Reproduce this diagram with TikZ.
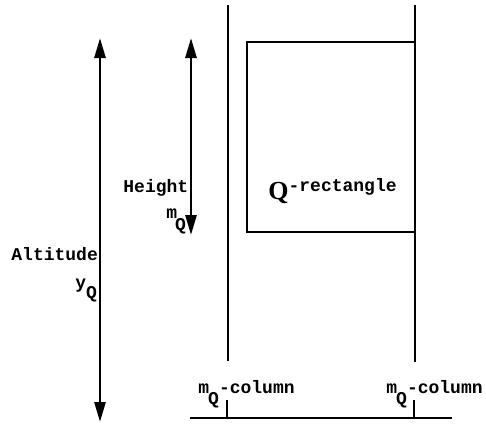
\documentclass[tikz,border=0pt]{standalone}
\usepackage{fontspec}
\setmonofont{Liberation Mono}
\newfontfamily\serifQ{Liberation Serif}
\usetikzlibrary{arrows.meta}
\newcommand{\lowQ}[2]{\kern#1\raisebox{#2}{Q}}

\begin{document}
\begin{tikzpicture}[x=1pt,y=-1pt,line width=2.8pt,
  lbl/.style={font=\ttfamily\bfseries\fontsize{18}{20}\selectfont,inner sep=0pt,anchor=base west},
  dimarrow/.style={{Triangle[length=20pt,width=11pt]}-{Triangle[length=20pt,width=11pt]}}]
\useasboundingbox (0,0) rectangle (486,423);
% columns and rectangle
\coordinate (lctop) at (228,5);   \coordinate (lcbot) at (228,361);
\coordinate (rctop) at (415,5);   \coordinate (rcbot) at (415,362);
\coordinate (rtr) at (415,42);    \coordinate (rtl) at (247,42);
\coordinate (rbl) at (247,232);   \coordinate (rbr) at (415,232);
\draw (lctop)--(lcbot);
\draw (rctop)--(rcbot);
\draw (rtr)--(rtl)--(rbl)--(rbr);
% ground line with ticks
\coordinate (gl) at (190,418);    \coordinate (gr) at (452,418);
\coordinate (ltick) at (227,400); \coordinate (lfoot) at (227,418);
\coordinate (rtick) at (414,400); \coordinate (rfoot) at (414,418);
\draw (gl)--(gr);
\draw (ltick)--(lfoot);
\draw (rtick)--(rfoot);
% dimension arrows
\coordinate (alttop) at (100,38); \coordinate (altbot) at (100,422);
\coordinate (httop) at (191,38);  \coordinate (htbot) at (191,235);
\draw[dimarrow] (alttop)--(altbot);
\draw[dimarrow] (httop)--(htbot);
% labels
\node[lbl] (altitude) at (10,260) {Altitude};
\node[lbl] (yq) at (74,288) {y\lowQ{0pt}{-10pt}};
\node[lbl] (height) at (122,192) {Height};
\node[lbl] (mq) at (165,218) {m\lowQ{-2pt}{-12pt}};
\node[lbl] (qrect) at (267,199) {{\serifQ\bfseries\fontsize{26}{26}\selectfont Q}\raisebox{8pt}{-rectangle}};
\node[lbl] (lcol) at (197,393) {m\lowQ{-1pt}{-11pt}-column};
\node[lbl] (rcol) at (385,393) {m\lowQ{-1pt}{-11pt}-column};
\end{tikzpicture}
\end{document}
